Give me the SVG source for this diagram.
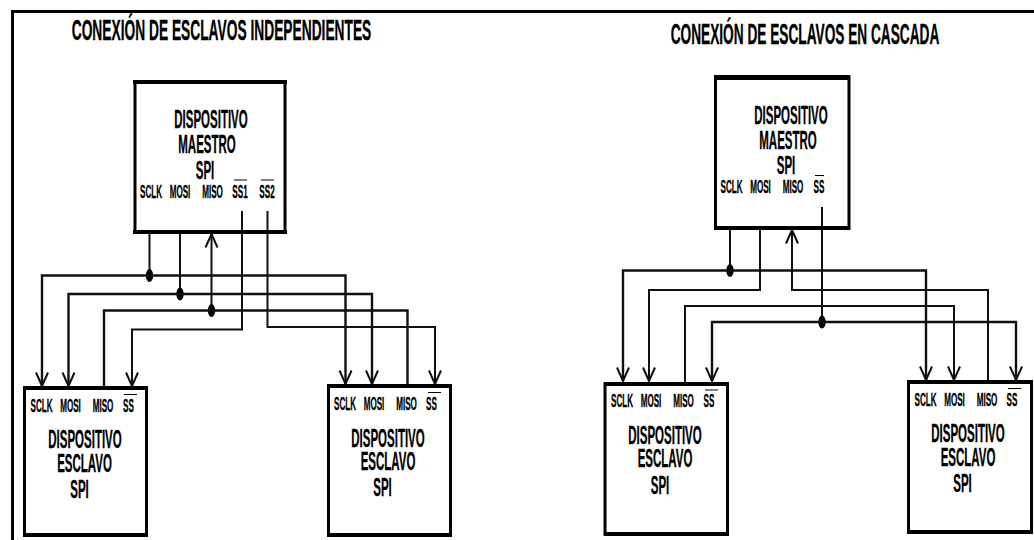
<svg xmlns="http://www.w3.org/2000/svg" width="1034" height="540" viewBox="0 0 1034 540">
<style>
text{font-family:"Liberation Sans",Arial,sans-serif;font-weight:bold;fill:#000;stroke:#000;stroke-width:.35;text-anchor:middle}
.t{font-size:29px}
.n{font-size:25px}
.p{font-size:18px}
.box{fill:none;stroke:#000;stroke-width:3}
.bar{fill:#000}
.w{fill:none;stroke:#111;stroke-width:2}
.h{fill:none;stroke:#111;stroke-width:2.4}
.o{stroke:#000;stroke-width:1}
</style>
<defs>
<marker id="a" markerUnits="userSpaceOnUse" markerWidth="16" markerHeight="14" refX="14" refY="6.5" viewBox="0 0 16 13" orient="auto-start-reverse" overflow="visible"><path d="M0.5 0.5L14 6.5L0.5 12.5" fill="none" stroke="#111" stroke-width="2"/></marker>
<marker id="d" markerUnits="userSpaceOnUse" markerWidth="10" markerHeight="16" refX="0" refY="0" viewBox="-5 -8 10 16" overflow="visible"><ellipse rx="3.7" ry="6.5" fill="#000"/></marker>
</defs>
<rect width="1034" height="540" fill="#fff"/>
<g id="frame"><path d="M12.5 540V11.5H1034" fill="none" stroke="#000" stroke-width="3"/></g>
<g id="connectors">
<path class="w" d="M149.5 234V275.5" marker-end="url(#d)"/>
<path class="h" d="M42 386V275.5H345.5V384" style="marker-start:url(#a);marker-end:url(#a)"/>
<path class="w" d="M180 234V294" marker-end="url(#d)"/>
<path class="h" d="M68.5 386V294H372V384" style="marker-start:url(#a);marker-end:url(#a)"/>
<path class="w" d="M211.5 234V310.5" style="marker-start:url(#a);marker-end:url(#d)"/>
<path class="h" d="M104 386V310.5H407.5V384"/>
<path class="w" d="M242 211V329.5H132V386" marker-end="url(#a)"/>
<path class="w" d="M267.5 211V327H435V384" marker-end="url(#a)"/>
<path class="w" d="M730 230V270.5" marker-end="url(#d)"/>
<path class="h" d="M623 381V270.5H926V380" style="marker-start:url(#a);marker-end:url(#a)"/>
<path class="w" d="M760 230V290H649V381" marker-end="url(#a)"/>
<path class="w" d="M792 230V290H988V380" marker-start="url(#a)"/>
<path class="w" d="M685 382V306H954V380" marker-end="url(#a)"/>
<path class="w" d="M822 207V322" marker-end="url(#d)"/>
<path class="h" d="M712 381V322H1016V380" style="marker-start:url(#a);marker-end:url(#a)"/>
</g>
<g id="title-left"><text class="t" transform="matrix(.475 0 0 1 221.5 40)">CONEXIÓN DE ESCLAVOS INDEPENDIENTES</text></g>
<g id="title-right"><text class="t" transform="matrix(.472 0 0 1 805 44)">CONEXIÓN DE ESCLAVOS EN CASCADA</text></g>

<g id="master-left">
<path class="box" d="M135 82H285V232H135Z"/>
<path class="bar" d="M133 80H287V84H133ZM133 230H287V234H133Z"/>
<text class="n" transform="matrix(.46 0 0 1 211 127.5)">DISPOSITIVO</text>
<text class="n" transform="matrix(.46 0 0 1 207 153)">MAESTRO</text>
<text class="n" transform="matrix(.46 0 0 1 205 179)">SPI</text>
<text class="p" transform="matrix(.45 0 0 1 151 198)">SCLK</text>
<text class="p" transform="matrix(.45 0 0 1 180 198)">MOSI</text>
<text class="p" transform="matrix(.45 0 0 1 212.5 198)">MISO</text>
<text class="p" transform="matrix(.45 0 0 1 240 198)">SS1</text>
<text class="p" transform="matrix(.45 0 0 1 267 198)">SS2</text>
<path class="o" d="M234 180H247M261 180H274"/>
</g>

<g id="slave-left-1">
<path class="box" d="M24.5 388H146.5V535H24.5Z"/>
<path class="bar" d="M23 386H148V390H23ZM23 533H148V537H23Z"/>
<text class="p" transform="matrix(.45 0 0 1 41.5 411.5)">SCLK</text>
<text class="p" transform="matrix(.45 0 0 1 70.5 411.5)">MOSI</text>
<text class="p" transform="matrix(.45 0 0 1 103 411.5)">MISO</text>
<text class="p" transform="matrix(.45 0 0 1 128.5 411.5)">SS</text>
<path class="o" d="M124 394.5H137"/>
<text class="n" transform="matrix(.46 0 0 1 85 448)">DISPOSITIVO</text>
<text class="n" transform="matrix(.46 0 0 1 84.5 472)">ESCLAVO</text>
<text class="n" transform="matrix(.46 0 0 1 79.5 498)">SPI</text>
</g>

<g id="slave-left-2">
<path class="box" d="M328.5 386H450.5V535H328.5Z"/>
<path class="bar" d="M327 384H452V388H327ZM327 533H452V537H327Z"/>
<text class="p" transform="matrix(.45 0 0 1 345 410)">SCLK</text>
<text class="p" transform="matrix(.45 0 0 1 374 410)">MOSI</text>
<text class="p" transform="matrix(.45 0 0 1 406.5 410)">MISO</text>
<text class="p" transform="matrix(.45 0 0 1 431.5 410)">SS</text>
<path class="o" d="M428 392.5H441"/>
<text class="n" transform="matrix(.46 0 0 1 388 446.5)">DISPOSITIVO</text>
<text class="n" transform="matrix(.46 0 0 1 388 470)">ESCLAVO</text>
<text class="n" transform="matrix(.46 0 0 1 382.5 496)">SPI</text>
</g>

<g id="master-right">
<path class="box" d="M715.5 77H849V228.5H715.5Z"/>
<path class="bar" d="M714 75H850V80H714ZM714 226H850V230H714Z"/>
<text class="n" transform="matrix(.46 0 0 1 791 124)">DISPOSITIVO</text>
<text class="n" transform="matrix(.46 0 0 1 788 148.5)">MAESTRO</text>
<text class="n" transform="matrix(.46 0 0 1 786 174)">SPI</text>
<text class="p" transform="matrix(.45 0 0 1 731.5 193)">SCLK</text>
<text class="p" transform="matrix(.45 0 0 1 760.5 193)">MOSI</text>
<text class="p" transform="matrix(.45 0 0 1 793 193)">MISO</text>
<text class="p" transform="matrix(.45 0 0 1 819 193)">SS</text>
<path class="o" d="M815 175.5H824"/>
</g>

<g id="slave-right-1">
<path class="box" d="M605 384H727.5V534H605Z"/>
<path class="bar" d="M604 382H729V386H604ZM604 532H729V536H604Z"/>
<text class="p" transform="matrix(.45 0 0 1 622 407)">SCLK</text>
<text class="p" transform="matrix(.45 0 0 1 651 407)">MOSI</text>
<text class="p" transform="matrix(.45 0 0 1 683.5 407)">MISO</text>
<text class="p" transform="matrix(.45 0 0 1 709 407)">SS</text>
<path class="o" d="M705 390H718"/>
<text class="n" transform="matrix(.46 0 0 1 665 444)">DISPOSITIVO</text>
<text class="n" transform="matrix(.46 0 0 1 665 467)">ESCLAVO</text>
<text class="n" transform="matrix(.46 0 0 1 660 494)">SPI</text>
</g>

<g id="slave-right-2">
<path class="box" d="M908.5 382H1031.5V532H908.5Z"/>
<path class="bar" d="M907 380H1033V384H907ZM907 530H1033V534H907Z"/>
<text class="p" transform="matrix(.45 0 0 1 925.5 405.5)">SCLK</text>
<text class="p" transform="matrix(.45 0 0 1 954.5 405.5)">MOSI</text>
<text class="p" transform="matrix(.45 0 0 1 987 405.5)">MISO</text>
<text class="p" transform="matrix(.45 0 0 1 1012 405.5)">SS</text>
<path class="o" d="M1008 388.5H1021"/>
<text class="n" transform="matrix(.46 0 0 1 968 442)">DISPOSITIVO</text>
<text class="n" transform="matrix(.46 0 0 1 968 466)">ESCLAVO</text>
<text class="n" transform="matrix(.46 0 0 1 962.5 492)">SPI</text>
</g>
</svg>
